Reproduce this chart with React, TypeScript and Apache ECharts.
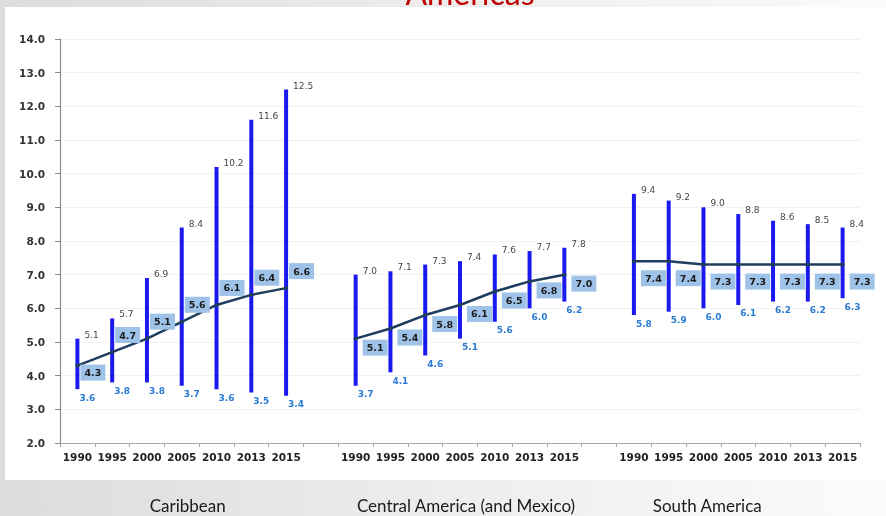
import React, { useEffect, useRef } from "react";
import * as echarts from "echarts";

const groups = ["Caribbean", "Central America (and Mexico)", "South America"];
const years = ["1990", "1995", "2000", "2005", "2010", "2013", "2015"];

const caribbeanHigh = [5.1, 5.7, 6.9, 8.4, 10.2, 11.6, 12.5];
const caribbeanMean = [4.3, 4.7, 5.1, 5.6, 6.1, 6.4, 6.6];
const caribbeanLow = [3.6, 3.8, 3.8, 3.7, 3.6, 3.5, 3.4];

const centralHigh = [7.0, 7.1, 7.3, 7.4, 7.6, 7.7, 7.8];
const centralMean = [5.1, 5.4, 5.8, 6.1, 6.5, 6.8, 7.0];
const centralLow = [3.7, 4.1, 4.6, 5.1, 5.6, 6.0, 6.2];

const southHigh = [9.4, 9.2, 9.0, 8.8, 8.6, 8.5, 8.4];
const southMean = [7.4, 7.4, 7.3, 7.3, 7.3, 7.3, 7.3];
const southLow = [5.8, 5.9, 6.0, 6.1, 6.2, 6.2, 6.3];

const yTicks = { min: 2, max: 14, interval: 1 };

const highs = [caribbeanHigh, centralHigh, southHigh];
const means = [caribbeanMean, centralMean, southMean];
const lows = [caribbeanLow, centralLow, southLow];

// categories: 7 years per group with one empty slot between groups
const categories: string[] = [];
const groupStart: number[] = [];
groups.forEach((g, gi) => {
  if (gi > 0) categories.push("gap" + gi);
  groupStart.push(categories.length);
  years.forEach((y) => categories.push(g + "|" + y));
});

const BAR = "#1a1aee";
const LINE = "#1f3d5c";
const BOX = "#9fc3e8";
const FONT = "DejaVu Sans";

export default function App() {
  const ref = useRef<HTMLDivElement>(null);
  useEffect(() => {
    if (!ref.current) return;
    const chart = echarts.init(ref.current, undefined, { renderer: "svg" });

    const rangeData: number[][] = [];
    const boxData: number[][] = [];
    groups.forEach((g, gi) => {
      years.forEach((y, yi) => {
        const idx = groupStart[gi] + yi;
        rangeData.push([idx, lows[gi][yi], highs[gi][yi]]);
        boxData.push([idx, means[gi][yi], gi, highs[gi][yi]]);
      });
    });

    const lineSeries = groups.map((g, gi) => {
      const arr: (number | null)[] = categories.map(() => null);
      means[gi].forEach((v, yi) => (arr[groupStart[gi] + yi] = v));
      return {
        type: "line",
        name: g,
        data: arr,
        z: 4,
        symbol: "circle",
        symbolSize: 4,
        showSymbol: true,
        itemStyle: { color: LINE },
        lineStyle: { color: LINE, width: 2.5 },
        silent: true,
      };
    });

    const option: any = {
      animation: false,
      grid: { left: 60, right: 26, top: 39, bottom: 73, containLabel: false },
      xAxis: {
        type: "category",
        data: categories,
        boundaryGap: true,
        axisLine: { show: true, lineStyle: { color: "#a6a6a6", width: 1 } },
        axisTick: { show: true, interval: 0, length: 4, lineStyle: { color: "#a6a6a6" } },
        axisLabel: {
          interval: 0,
          margin: 8,
          fontFamily: FONT,
          fontWeight: "bold",
          fontSize: 10.5,
          color: "#222",
          formatter: (v: string) => (v.indexOf("|") >= 0 ? v.split("|")[1] : ""),
        },
        splitLine: { show: false },
      },
      yAxis: {
        type: "value",
        min: yTicks.min,
        max: yTicks.max,
        interval: yTicks.interval,
        axisLine: { show: true, lineStyle: { color: "#8c8c8c", width: 1.2 } },
        axisTick: { show: true, length: 5, lineStyle: { color: "#8c8c8c" } },
        axisLabel: {
          margin: 15,
          fontFamily: FONT,
          fontWeight: "bold",
          fontSize: 10.5,
          color: "#333",
          formatter: (v: number) => v.toFixed(1),
        },
        splitLine: { show: true, lineStyle: { color: "#f1f1f1", width: 1 } },
      },
      series: [
        {
          type: "custom",
          name: "range",
          data: rangeData,
          encode: { x: 0, y: [1, 2] },
          z: 3,
          silent: true,
          renderItem: (params: any, api: any) => {
            const x = api.value(0);
            const low = api.value(1);
            const high = api.value(2);
            const pl = api.coord([x, low]);
            const ph = api.coord([x, high]);
            return {
              type: "group",
              children: [
                {
                  type: "rect",
                  shape: { x: ph[0] - 2, y: ph[1], width: 4, height: pl[1] - ph[1] },
                  style: { fill: BAR },
                },
                {
                  type: "text",
                  x: ph[0] + 7,
                  y: ph[1] - 4,
                  style: {
                    text: high.toFixed(1),
                    fill: "#454545",
                    fontFamily: FONT,
                    fontSize: 9,
                    align: "left",
                    verticalAlign: "middle",
                  },
                },
                {
                  type: "text",
                  x: pl[0] + 2,
                  y: pl[1] + 4,
                  style: {
                    text: low.toFixed(1),
                    fill: "#2a7bd4",
                    fontFamily: FONT,
                    fontWeight: "bold",
                    fontSize: 9,
                    align: "left",
                    verticalAlign: "top",
                  },
                },
              ],
            };
          },
        },
        ...lineSeries,
        {
          type: "custom",
          name: "meanBoxes",
          data: boxData,
          encode: { x: 0, y: 1 },
          z: 5,
          silent: true,
          renderItem: (params: any, api: any) => {
            const x = api.value(0);
            const mean = api.value(1);
            const gi = api.value(2);
            const high = api.value(3);
            const p = api.coord([x, mean]);
            const w = 25;
            const h = 16;
            let bx = p[0] + 7;
            let by = p[1] + 1;
            if (gi === 0) {
              bx = p[0] + 3;
              by = high - mean < 1 ? p[1] - 1 : p[1] - 25;
            } else if (gi === 2) {
              by = p[1] + 9;
            }
            return {
              type: "group",
              children: [
                { type: "rect", shape: { x: bx, y: by, width: w, height: h }, style: { fill: BOX } },
                {
                  type: "text",
                  x: bx + w / 2,
                  y: by + h / 2,
                  style: {
                    text: mean.toFixed(1),
                    fill: "#1a1a1a",
                    fontFamily: FONT,
                    fontWeight: "bold",
                    fontSize: 9.5,
                    align: "center",
                    verticalAlign: "middle",
                  },
                },
              ],
            };
          },
        },
      ],
      graphic: [
        {
          id: "bg",
          type: "rect",
          z: -30,
          silent: true,
          shape: { x: 0, y: 0, width: 886, height: 516 },
          style: {
            fill: {
              type: "linear",
              x: 0,
              y: 0,
              x2: 1,
              y2: 0,
              colorStops: [
                { offset: 0, color: "#dcdcdc" },
                { offset: 0.5, color: "#ededed" },
                { offset: 1, color: "#fbfbfb" },
              ],
            },
          },
        },
        {
          id: "title",
          type: "text",
          z: -29,
          silent: true,
          x: 470,
          y: 8,
          style: {
            text: "Americas",
            fill: "#c00000",
            fontFamily: "Lato",
            fontSize: 32,
            align: "center",
            verticalAlign: "bottom",
          },
        },
        {
          id: "panel",
          type: "rect",
          z: -28,
          silent: true,
          shape: { x: 5, y: 7, width: 881, height: 473 },
          style: { fill: "#ffffff" },
        },
      ],
    };

    chart.setOption(option);

    const shifts = [6, 6, -31];
    const labels = groups.map((g, gi) => {
      const mid = categories[groupStart[gi] + 3];
      const px = chart.convertToPixel({ xAxisIndex: 0 }, mid) as number;
      return {
        id: "glabel" + gi,
        type: "text",
        silent: true,
        x: px + shifts[gi],
        y: 505,
        style: {
          text: g,
          fill: "#1a1a1a",
          fontFamily: "Lato",
          fontSize: 17,
          align: "center",
          verticalAlign: "middle",
        },
      };
    });
    chart.setOption({ graphic: labels });

    return () => chart.dispose();
  }, []);

  return (
    <div
      ref={ref}
      style={{ position: "fixed", left: 0, top: 0, width: 886, height: 516 }}
    />
  );
}
